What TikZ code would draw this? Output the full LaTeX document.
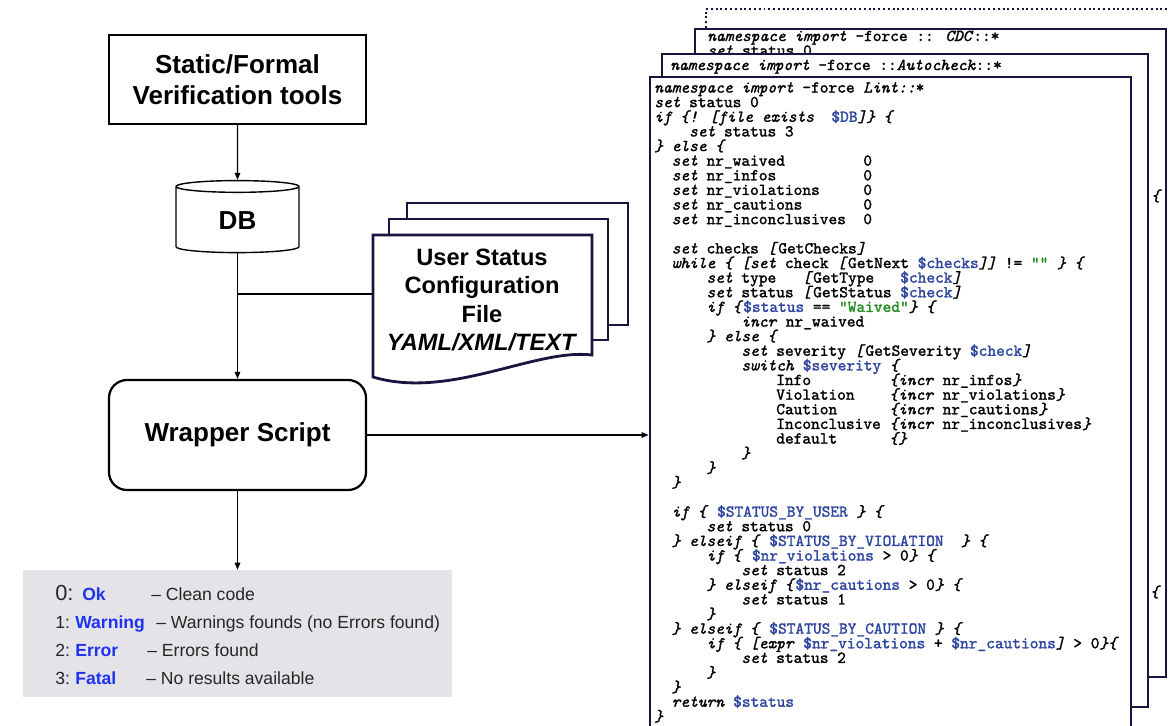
\documentclass[tikz,border=0pt]{standalone}
\usepackage{fontspec}
\setmainfont{Liberation Sans}
\newfontfamily\codefam{lmmono10-regular.otf}[ItalicFont=lmmono10-italic.otf, FakeBold=1.6]
\usetikzlibrary{arrows.meta, positioning, shapes.geometric, fit}

\definecolor{navy}{RGB}{22,22,62}
\definecolor{codeblue}{RGB}{46,70,160}
\definecolor{codegreen}{RGB}{34,139,34}
\definecolor{keyblue}{RGB}{30,50,240}
\definecolor{legendgray}{RGB}{228,228,232}

\newcommand{\kw}[1]{\textit{#1}}
\newcommand{\codevar}[1]{\textcolor{codeblue}{#1}}
\newcommand{\codestr}[1]{\textcolor{codegreen}{#1}}
\newcommand{\cind}[1]{\hspace*{#1\fontcharwd\font`0}}
\newcommand{\codefont}{\codefam\fontsize{11.8}{10.4}\selectfont\lineskiplimit=-30pt}

\begin{document}
\begin{tikzpicture}[
    x=0.025cm, y=-0.025cm,
    block/.style={rectangle, draw, line width=0.9pt, minimum width=6.425cm, minimum height=2.225cm, align=center, font=\bfseries\fontsize{18.5}{22}\selectfont},
    dbshape/.style={cylinder, shape border rotate=90, draw, line width=1pt, aspect=0.25, minimum width=3.075cm, minimum height=1.8cm, font=\bfseries\fontsize{18.5}{22}\selectfont},
    arrow/.style={-{Triangle[length=5pt, width=4pt]}, line width=0.85pt},
    line/.style={line width=0.85pt},
    page/.style={draw=navy, line width=2pt, fill=white},
    codebox/.style={rectangle, draw=navy, line width=2pt, fill=white, inner sep=0pt},
    codeline/.style={inner sep=0pt, font=\codefont},
    lgtext/.style={inner sep=0pt, anchor=base west, text=black!85, font=\fontsize{12.5}{14}\selectfont},
    lgkey/.style={inner sep=0pt, anchor=base west, text=keyblue, font=\bfseries\fontsize{12.5}{14}\selectfont},
]
\useasboundingbox (0,0) rectangle (1168,725);
\clip (0,0) rectangle (1168,725);

% left flow
\node[block] (tools) at (237.5,79.5) {Static/Formal\\Verification tools};
\node[dbshape] (db) at (237.5,221) {DB};
\node[block, rounded corners=0.45cm, line width=1.6pt, minimum height=2.75cm] (wrap) at (237.5,435) {Wrapper Script};

\draw[arrow] (tools) -- (db);
\draw[arrow] (db) -- (wrap);

% user status configuration file
\draw[page] (407,203) rectangle (628,325);
\draw[page] (389,219) rectangle (608,340);
\draw[page] (373,235) -- (592,235) -- (592,355)
    .. controls (535,348) and (450,400) .. (373,377) -- cycle;
\node[align=center, inner sep=0pt, font=\bfseries\fontsize{16.8}{20.2}\selectfont]
    (cfg) at (482,300) {User Status\\Configuration\\File\\\textit{YAML/XML/TEXT}};
\coordinate (cfgin) at (373,294);
\draw[line] (db.south |- cfgin) -- (cfgin);

% exit codes
\node[fill=legendgray, inner sep=0pt, fit={(23,570) (452,697)}] (legend) {};
\draw[arrow] (wrap) -- (legend);

\node[lgtext, font=\fontsize{15.5}{16}\selectfont] (n0) at (55,600) {0:};
\node[lgkey] (k0) at (82,600) {Ok};
\node[lgtext] (d0) at (151,600) {-- Clean code};
\node[lgtext] (n1) at (55,628) {1:};
\node[lgkey] (k1) at (75,628) {Warning};
\node[lgtext] (d1) at (156,628) {-- Warnings founds (no Errors found)};
\node[lgtext] (n2) at (55,656) {2:};
\node[lgkey] (k2) at (75,656) {Error};
\node[lgtext] (d2) at (147,656) {-- Errors found};
\node[lgtext] (n3) at (55,684) {3:};
\node[lgkey] (k3) at (75,684) {Fatal};
\node[lgtext] (d3) at (146,684) {-- No results available};

% stacked check scripts
\draw[navy, dotted, line width=1.4pt] (706,28) -- (706,9) -- (1175,9);
\node[codebox, fit={(695,29) (1166,677)}] (cdc) {};
\node[codeline, anchor=base west] (cdchead) at (707,41) {\kw{namespace import} -force :: \kw{CDC}::*};
\node[codeline, anchor=base west] (cdcset) at (707,55.6) {\kw{set} status 0};
\node[codeline, anchor=base west] (cdcbr1) at (1151,201) {\kw{\{}};
\node[codeline, anchor=base west] (cdcbr2) at (1150,597) {\kw{\{}};
\node[codebox, fit={(662,54) (1148,707)}] (autochk) {};
\node[codeline, anchor=base west] (autohead) at (670,70) {\kw{namespace import} -force ::\kw{Autocheck}::*};
\node[codebox, fit={(650,77) (1131,760)}] (lint) {};
\node[codeline, align=left, anchor=north west] (lintcode) at (654,82) {%
\kw{namespace import} -force \kw{Lint::}*\\
\kw{set} status 0\\
\kw{if \{! [file exists}\cind{2}\codevar{\$DB}\kw{]\} \{}\\
\cind{4}\kw{set} status 3\\
\kw{\} else \{}\\
\cind{2}\kw{set} nr\_waived\cind{9}0\\
\cind{2}\kw{set} nr\_infos\cind{10}0\\
\cind{2}\kw{set} nr\_violations\cind{5}0\\
\cind{2}\kw{set} nr\_cautions\cind{7}0\\
\cind{2}\kw{set} nr\_inconclusives\cind{2}0\\
\mbox{}\\
\cind{2}\kw{set} checks \kw{[}GetChecks\kw{]}\\
\cind{2}\kw{while \{ [set} check \kw{[}GetNext \codevar{\$checks}\kw{]]} != \codestr{""} \kw{\} \{}\\
\cind{6}\kw{set} type\cind{3}\kw{[}GetType\cind{3}\codevar{\$check}\kw{]}\\
\cind{6}\kw{set} status \kw{[}GetStatus \codevar{\$check}\kw{]}\\
\cind{6}\kw{if \{}\codevar{\$status} == \codestr{"Waived"}\kw{\} \{}\\
\cind{10}\kw{incr} nr\_waived\\
\cind{6}\kw{\} else \{}\\
\cind{10}\kw{set} severity \kw{[}GetSeverity \codevar{\$check}\kw{]}\\
\cind{10}\kw{switch} \codevar{\$severity} \kw{\{}\\
\cind{14}Info\cind{9}\kw{\{incr} nr\_infos\kw{\}}\\
\cind{14}Violation\cind{4}\kw{\{incr} nr\_violations\kw{\}}\\
\cind{14}Caution\cind{6}\kw{\{incr} nr\_cautions\kw{\}}\\
\cind{14}Inconclusive \kw{\{incr} nr\_inconclusives\kw{\}}\\
\cind{14}default\cind{6}\kw{\{\}}\\
\cind{10}\kw{\}}\\
\cind{6}\kw{\}}\\
\cind{2}\kw{\}}\\
\mbox{}\\
\cind{2}\kw{if \{} \codevar{\$STATUS\_BY\_USER} \kw{\} \{}\\
\cind{6}\kw{set} status 0\\
\cind{2}\kw{\} elseif \{} \codevar{\$STATUS\_BY\_VIOLATION}\cind{2}\kw{\} \{}\\
\cind{6}\kw{if \{} \codevar{\$nr\_violations} > 0\kw{\} \{}\\
\cind{10}\kw{set} status 2\\
\cind{6}\kw{\} elseif \{}\codevar{\$nr\_cautions} > 0\kw{\} \{}\\
\cind{10}\kw{set} status 1\\
\cind{6}\kw{\}}\\
\cind{2}\kw{\} elseif \{} \codevar{\$STATUS\_BY\_CAUTION} \kw{\} \{}\\
\cind{6}\kw{if \{ [expr} \codevar{\$nr\_violations} + \codevar{\$nr\_cautions}\kw{]} > 0\kw{\}\{}\\
\cind{10}\kw{set} status 2\\
\cind{6}\kw{\}}\\
\cind{2}\kw{\}}\\
\cind{2}\kw{return} \codevar{\$status}\\
\kw{\}}};

\draw[arrow] (wrap.east) -- (wrap.east -| lint.west);

\end{tikzpicture}
\end{document}
